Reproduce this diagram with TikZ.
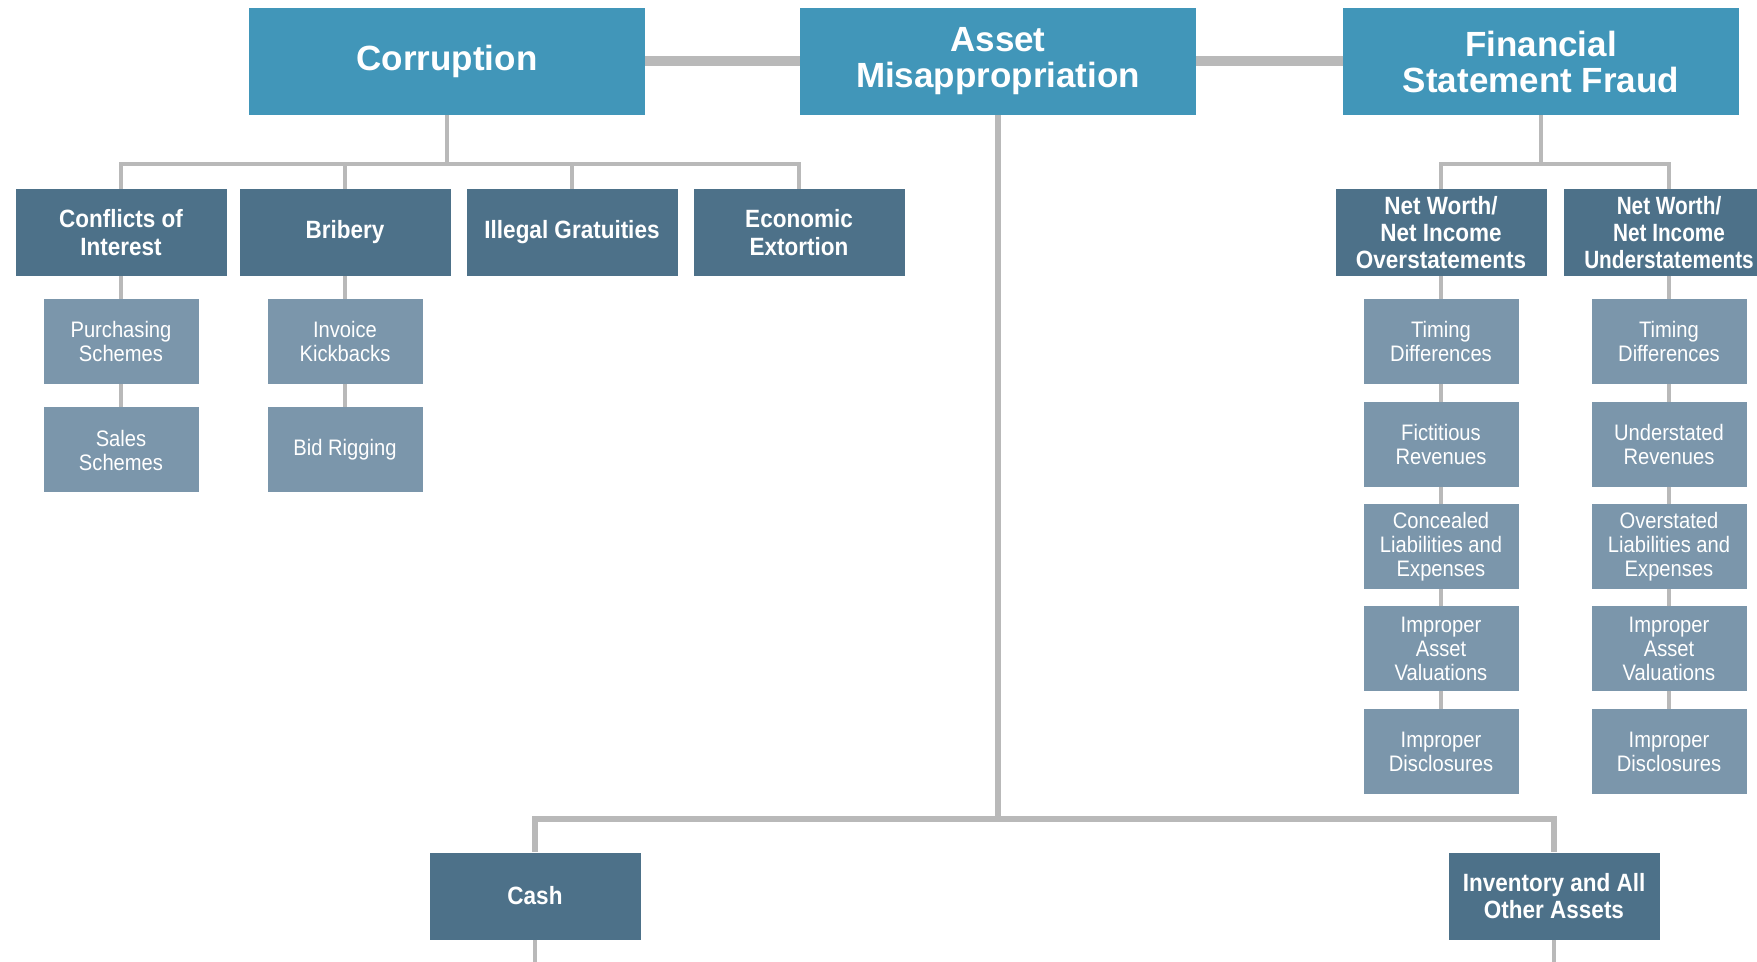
\documentclass[tikz,border=0pt]{standalone}
\usepackage{fontspec}
\setmainfont{Liberation Sans}
\newfontfamily\condfont{Liberation Sans}[FakeStretch=0.9]
\newfontfamily\narrowfont{Liberation Sans}[FakeStretch=0.83]
\usepackage{xcolor}
\usetikzlibrary{positioning}
\definecolor{topblue}{HTML}{4196B9}
\definecolor{midblue}{HTML}{4D7189}
\definecolor{lowblue}{HTML}{7B96AB}
\definecolor{linkgray}{HTML}{B9B9B9}

\begin{document}
\begin{tikzpicture}[
  x=0.5pt, y=-0.5pt,
  topbox/.style={
    fill=topblue, text=white, align=center,
    minimum width=198pt, minimum height=53.5pt,
    font=\fontsize{17.5}{18}\selectfont\bfseries
  },
  midbox/.style={
    fill=midblue, text=white, align=center, inner sep=1pt,
    minimum width=105.5pt, minimum height=43.5pt,
    font=\condfont\fontsize{12.5}{13.6}\selectfont\bfseries
  },
  lowbox/.style={
    fill=lowblue, text=white, align=center, inner sep=1pt,
    minimum width=77.5pt, minimum height=42.5pt,
    font=\condfont\fontsize{11.2}{12}\selectfont
  },
  link/.style={draw=linkgray, line width=2.2pt},
  trunk/.style={draw=linkgray, line width=5pt}
]
  \useasboundingbox (0,0) rectangle (1757,962);
  \clip (0,0) rectangle (1757,962);

  % the three main branches
  \node[topbox] (corr) at (447,61.5) {Corruption};
  \node[topbox] (asset) at (998,61.5) {Asset\\Misappropriation};
  \node[topbox] (fsf) at (1541,61.5) {Financial\\Statement Fraud};
  \draw[trunk] (corr.east) -- (asset.west);
  \draw[trunk] (asset.east) -- (fsf.west);

  % corruption
  \foreach \x/\n/\t in {121/coi/{Conflicts of\\Interest}, 345/bri/Bribery,
      572/ill/Illegal Gratuities, 799/eco/{Economic\\Extortion}} {
    \node[midbox] (\n) at (\x,232.5) {\t};
  }
  \coordinate (cbus) at (447,164);
  \draw[link] (corr) -- (cbus);
  \foreach \n in {coi,bri,ill,eco} {
    \draw[link] (cbus) -| (\n.north);
  }
  \node[lowbox] (pur) at (121,341.5) {Purchasing\\Schemes};
  \node[lowbox] (sal) at (121,450) {Sales\\Schemes};
  \node[lowbox] (kick) at (345,341.5) {Invoice\\Kickbacks};
  \node[lowbox] (bid) at (345,450) {Bid Rigging};
  \draw[link] (coi) -- (pur) -- (sal);
  \draw[link] (bri) -- (kick) -- (bid);

  % financial statement fraud
  \node[midbox] (nwo) at (1441,232.5) {Net Worth/\\Net Income\\Overstatements};
  \node[midbox, font=\narrowfont\fontsize{12.5}{13.6}\selectfont\bfseries]
    (nwu) at (1669,232.5) {Net Worth/\\Net Income\\Understatements};
  \coordinate (fbus) at (1541,164);
  \draw[link] (fsf) -- (fbus);
  \draw[link] (fbus) -| (nwo.north);
  \draw[link] (fbus) -| (nwu.north);
  \foreach \y/\i/\a/\b in {
      341.5/1/{Timing\\Differences}/{Timing\\Differences},
      444.5/2/{Fictitious\\Revenues}/{Understated\\Revenues},
      546.5/3/{Concealed\\Liabilities and\\Expenses}/{Overstated\\Liabilities and\\Expenses},
      648.5/4/{Improper\\Asset\\Valuations}/{Improper\\Asset\\Valuations},
      751.5/5/{Improper\\Disclosures}/{Improper\\Disclosures}} {
    \node[lowbox] (o\i) at (1441,\y) {\a};
    \node[lowbox] (u\i) at (1669,\y) {\b};
  }
  \draw[link] (nwo) -- (o1) -- (o2) -- (o3) -- (o4) -- (o5);
  \draw[link] (nwu) -- (u1) -- (u2) -- (u3) -- (u4) -- (u5);

  % asset misappropriation
  \node[midbox] (cash) at (535,896) {Cash};
  \node[midbox] (other) at (1554,896) {Inventory and All\\Other Assets};
  \coordinate (abus) at (998,819);
  \coordinate (cashout) at (535,962);
  \coordinate (otherout) at (1554,962);
  \draw[link, line width=2.8pt] (asset) -- (abus);
  \draw[link, line width=2.8pt] (abus) -| (cash.north);
  \draw[link, line width=2.8pt] (abus) -| (other.north);
  \draw[link] (cash) -- (cashout);
  \draw[link] (other) -- (otherout);
\end{tikzpicture}
\end{document}
